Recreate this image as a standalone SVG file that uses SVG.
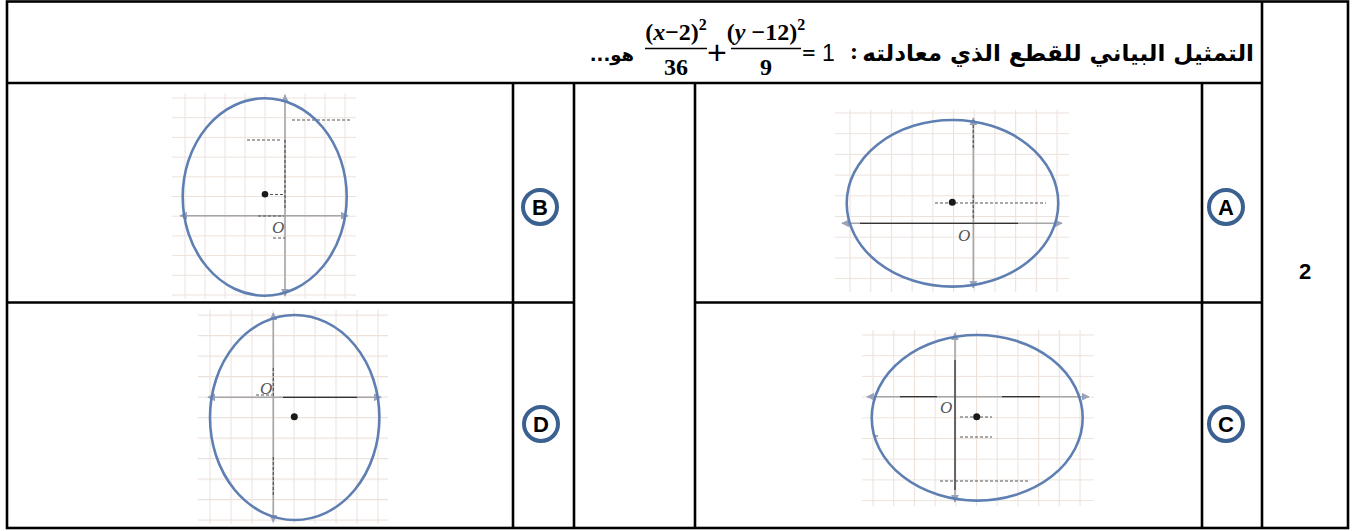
<svg xmlns="http://www.w3.org/2000/svg" width="1361" height="531" viewBox="0 0 1361 531">
<style>
.tbl{stroke:#000;stroke-width:2.6;fill:none}
.axis{stroke:#a6a6a6;stroke-width:1.6;fill:none}
.dark{stroke:#555;stroke-width:1.2;fill:none;stroke-dasharray:3 2}
.ell{fill:none;stroke:#5f7fb3;stroke-width:2.6}
.dot{fill:#1a1a1a}
.o{font-family:"Liberation Serif",serif;font-style:italic;font-size:17px;fill:#555}
.ring{fill:#fff;stroke:#3b6190;stroke-width:4}
.lab{font-family:"Liberation Sans",Arial,sans-serif;font-weight:bold;font-size:22px;fill:#000;text-anchor:middle}
.ar{font-family:"DejaVu Sans",sans-serif;font-weight:bold;font-size:23px;fill:#000}
.m{font-family:"Liberation Serif",serif;font-weight:bold;font-size:24px;fill:#000}
.mi{font-style:italic}
.num{font-family:"Liberation Sans",Arial,sans-serif;font-size:23px;fill:#000}
</style>
<defs>
<pattern id="gB" patternUnits="userSpaceOnUse" x="184.5" y="97.5" width="20" height="19.7"><path d="M0.5 0V19.7M0 0.5H20" stroke="#ece2dc" stroke-width="1.2"/></pattern>
<pattern id="gA" patternUnits="userSpaceOnUse" x="849.5" y="112.5" width="20.7" height="20.7"><path d="M0.5 0V20.7M0 0.5H20.7" stroke="#ece2dc" stroke-width="1.2"/></pattern>
<pattern id="gD" patternUnits="userSpaceOnUse" x="209.5" y="314.5" width="21" height="20.5"><path d="M0.5 0V20.5M0 0.5H21" stroke="#ece2dc" stroke-width="1.2"/></pattern>
<pattern id="gC" patternUnits="userSpaceOnUse" x="872.5" y="334.5" width="20.7" height="20.7"><path d="M0.5 0V20.7M0 0.5H20.7" stroke="#ece2dc" stroke-width="1.2"/></pattern>
<marker id="ah" viewBox="0 0 10 10" refX="9" refY="5" markerWidth="5" markerHeight="5" orient="auto-start-reverse"><path d="M0 0L10 5L0 10z" fill="#9aa3b8"/></marker>
</defs>

<g id="table">
<rect class="tbl" x="7" y="1.5" width="1341" height="526.5"/>
<line class="tbl" x1="7" y1="83" x2="1262" y2="83"/>
<line class="tbl" x1="1262" y1="1.5" x2="1262" y2="528"/>
<line class="tbl" x1="1202" y1="83" x2="1202" y2="528"/>
<line class="tbl" x1="695" y1="83" x2="695" y2="528"/>
<line class="tbl" x1="574" y1="83" x2="574" y2="528"/>
<line class="tbl" x1="513" y1="83" x2="513" y2="528"/>
<line class="tbl" x1="7" y1="302.5" x2="574" y2="302.5"/>
<line class="tbl" x1="695" y1="302.5" x2="1262" y2="302.5"/>
</g>

<g id="header">
<text class="ar" x="1254" y="61" text-anchor="start" direction="rtl">التمثيل البياني للقطع الذي معادلته</text>
<text class="m" x="850" y="59">:</text>
<text class="num" x="822" y="61">1</text>
<text class="m" x="802" y="61">=</text>
<text class="m" x="766" y="40" text-anchor="middle">(<tspan class="mi">y</tspan> −12)<tspan font-size="16" dy="-10">2</tspan></text>
<line x1="731" y1="48.5" x2="801" y2="48.5" stroke="#000" stroke-width="1.6"/>
<text class="m" x="766" y="75" text-anchor="middle">9</text>
<text class="num" x="717" y="64" text-anchor="middle" style="font-size:34px">+</text>
<text class="m" x="676" y="40" text-anchor="middle">(<tspan class="mi">x</tspan>−2)<tspan font-size="16" dy="-10">2</tspan></text>
<line x1="645" y1="48.5" x2="707" y2="48.5" stroke="#000" stroke-width="1.6"/>
<text class="m" x="676" y="75" text-anchor="middle">36</text>
<text class="ar" x="634" y="61" text-anchor="start" direction="rtl" style="font-size:18px">هو...</text>
</g>

<g id="graphB">
<rect x="172" y="93" width="184" height="206" fill="url(#gB)"/>
<line class="axis" x1="180" y1="215.7" x2="348" y2="215.7" marker-start="url(#ah)" marker-end="url(#ah)"/>
<line class="axis" x1="285" y1="95" x2="285" y2="296" marker-start="url(#ah)" marker-end="url(#ah)"/>
<path class="dark" d="M285 140V210M270 194.5H284M258 216H284M273 238H285M247 140H280M292 120H350"/>
<ellipse class="ell" cx="264.7" cy="197" rx="82" ry="98.7"/>
<circle class="dot" cx="265" cy="194.3" r="3.3"/>
<text class="o" x="272" y="233">O</text>
</g>

<g id="graphA">
<rect x="835" y="110" width="234" height="182" fill="url(#gA)"/>
<line class="axis" x1="842" y1="223.3" x2="1062" y2="223.3" marker-start="url(#ah)" marker-end="url(#ah)"/>
<line class="axis" x1="973.3" y1="118" x2="973.3" y2="288" marker-start="url(#ah)" marker-end="url(#ah)"/>
<path d="M860 223.3H1018" stroke="#333" stroke-width="1.2"/>
<path class="dark" d="M935 203H1046M973.3 120V150M973.3 195V220"/>
<ellipse class="ell" cx="952.5" cy="203.3" rx="105.8" ry="83.3"/>
<circle class="dot" cx="952.3" cy="202.3" r="3.5"/>
<text class="o" x="958" y="241">O</text>
</g>

<g id="graphD">
<rect x="198" y="310" width="190" height="214" fill="url(#gD)"/>
<line class="axis" x1="208" y1="397.3" x2="381" y2="397.3" marker-start="url(#ah)" marker-end="url(#ah)"/>
<line class="axis" x1="273.3" y1="313" x2="273.3" y2="522" marker-start="url(#ah)" marker-end="url(#ah)"/>
<path d="M283 397.3H357" stroke="#333" stroke-width="1.2"/>
<path class="dark" d="M273.3 368V396M273.3 457V497M256 395H272"/>
<ellipse class="ell" cx="294.7" cy="417.5" rx="84.7" ry="102.5"/>
<circle class="dot" cx="294.3" cy="416.7" r="3.5"/>
<text class="o" x="260" y="394">O</text>
</g>

<g id="graphC">
<rect x="862" y="330" width="232" height="176" fill="url(#gC)"/>
<line class="axis" x1="867" y1="396.7" x2="1089" y2="396.7" marker-start="url(#ah)" marker-end="url(#ah)"/>
<line class="axis" x1="955" y1="333" x2="955" y2="502" marker-start="url(#ah)" marker-end="url(#ah)"/>
<path d="M900 396.7H937M1002 396.7H1040M955 360V490" stroke="#333" stroke-width="1.2"/>
<path class="dark" d="M960 417H992M960 437H992M940 481H1030M875 436H880"/>
<ellipse class="ell" cx="977.2" cy="417.8" rx="105.5" ry="82.8"/>
<circle class="dot" cx="976.7" cy="416.7" r="3.5"/>
<text class="o" x="940" y="413">O</text>
</g>

<g id="optB"><circle class="ring" cx="540" cy="207" r="17"/><text class="lab" x="540" y="215">B</text></g>
<g id="optA"><circle class="ring" cx="1226" cy="207" r="17"/><text class="lab" x="1226" y="215">A</text></g>
<g id="optD"><circle class="ring" cx="541" cy="424" r="17"/><text class="lab" x="541" y="432">D</text></g>
<g id="optC"><circle class="ring" cx="1226" cy="424" r="17"/><text class="lab" x="1226" y="432">C</text></g>

<g id="qnum"><text class="lab" x="1305" y="279">2</text></g>
</svg>
